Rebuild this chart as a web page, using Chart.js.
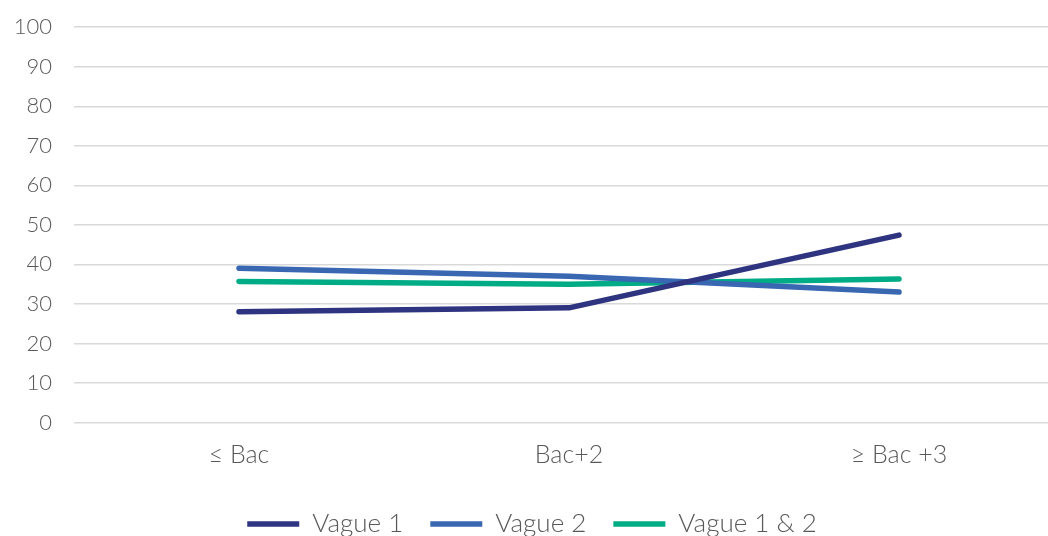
<!doctype html>
<html>
<head>
	<meta charset="UTF-8">
	<title>Vagues</title>
	<script src="https://cdn.jsdelivr.net/npm/chart.js@4"></script>
	<style>
		body { margin: 0; overflow: hidden; background: #fff; }
		/* the source chart is cropped on the right and a little at the top */
		#holder { width: 1064px; height: 555px; margin-top: -8.5px; }
	</style>
</head>
<body>
	<div id="holder"><canvas id="chart"></canvas></div>
	<script>
		const categories = ['≤ Bac', 'Bac+2', '≥ Bac +3']
		const vague1 = [28, 29, 47.4]
		const vague2 = [39, 37, 33]
		const vague12 = [35.7, 35, 36.3]
		const yTicks = [0, 10, 20, 30, 40, 50, 60, 70, 80, 90, 100]

		const grey = '#595959'

		function line (label, data, color) {
			return {
				label: label,
				data: data,
				borderColor: color,
				backgroundColor: color,
				borderWidth: 5.5,
				borderCapStyle: 'round',
				borderJoinStyle: 'round',
				pointRadius: 0,
				tension: 0
			}
		}

		new Chart(document.getElementById('chart'), {
			type: 'line',
			data: {
				labels: categories,
				datasets: [
					line('Vague 1', vague1, '#2e3480'),
					line('Vague 2', vague2, '#3a67b2'),
					line('Vague 1 & 2', vague12, '#00ac86')
				]
			},
			options: {
				responsive: true,
				maintainAspectRatio: false,
				animation: false,
				layout: { padding: 0 },
				scales: {
					x: {
						offset: true,
						grid: { display: false, drawTicks: false },
						border: { display: false },
						ticks: { color: grey, font: { family: 'Lato', size: 25, weight: 300 }, padding: 17 },
						afterFit: s => { s.height = 61.5 }
					},
					y: {
						min: 0,
						max: 100,
						afterBuildTicks: s => { s.ticks = yTicks.map(v => ({ value: v })) },
						grid: { color: '#d9d9d9', lineWidth: 1.5, drawTicks: false },
						border: { display: false },
						ticks: { color: grey, font: { family: 'Lato', size: 22, weight: 300 }, padding: 22 },
						afterFit: s => { s.width = 74 }
					}
				},
				plugins: {
					legend: {
						position: 'bottom',
						labels: {
							color: grey,
							font: { family: 'Lato', size: 26, weight: 300 },
							usePointStyle: true,
							pointStyle: 'line',
							pointStyleWidth: 52,
							boxHeight: 5,
							padding: 27
						}
					},
					tooltip: { enabled: false }
				}
			}
		})
	</script>
</body>
</html>
